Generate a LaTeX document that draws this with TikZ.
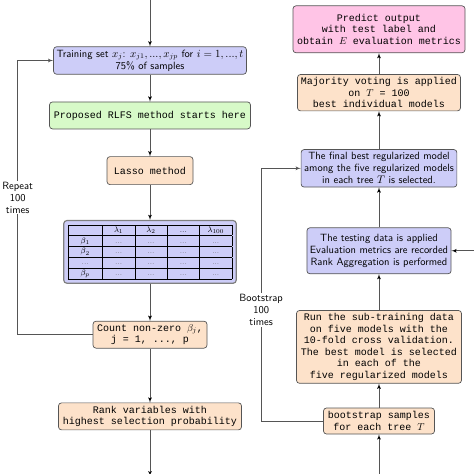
\documentclass[tikz,border=0pt]{standalone}
\usepackage{fontspec}
\setmonofont{Liberation Mono}
\usepackage{amsmath}
\usepackage{array}
\usepackage{tikz}
\usetikzlibrary{arrows,positioning,calc}

\definecolor{bluefill}{RGB}{205,205,248}
\definecolor{greenfill}{RGB}{215,250,200}
\definecolor{orangefill}{RGB}{253,226,202}
\definecolor{pinkfill}{RGB}{255,196,230}
\definecolor{edgegray}{RGB}{85,85,85}

\newcommand{\dd}{\textcolor{black!60}{...}}

\begin{document}
\begin{tikzpicture}[>=latex', font=\fontsize{10}{11.5}\selectfont,
  box/.style={draw=edgegray, rounded corners=3pt, align=center, inner sep=3pt, line width=0.7pt},
  bluebox/.style={box, fill=bluefill, font=\sffamily\fontsize{10.5}{12}\selectfont},
  greenbox/.style={box, fill=greenfill, font=\ttfamily\fontsize{10}{11.5}\selectfont},
  orangebox/.style={box, fill=orangefill, font=\ttfamily\fontsize{10}{11.5}\selectfont},
  pinkbox/.style={box, fill=pinkfill, font=\ttfamily\fontsize{10}{11.5}\selectfont},
  flow/.style={->, draw=edgegray, line width=0.8pt},
  looplabel/.style={fill=white, align=center, inner sep=1pt, font=\sffamily\fontsize{10.5}{12}\selectfont}]
 		\useasboundingbox (0,0) rectangle (474pt,-474pt);
 		% left column
 		\node[bluebox, minimum width=184pt, minimum height=27pt] (train) at (150pt,-60.5pt)
 		      {Training set $x_j$: $x_{j1},...,x_{jp}$ for $i = 1,...,t$\\ 75\% of samples};
 		\node[greenbox, minimum width=201pt, minimum height=27pt] (rlfs)  [below=27pt of train] {Proposed RLFS method starts here};
 		\node[orangebox, minimum width=86pt, minimum height=28pt] (lasso) [below=27pt of rlfs]  {Lasso method};
 		\node[bluebox, draw=gray, line width=1.2pt, inner sep=4pt] (coef) [below=35pt of lasso]
 		      {\footnotesize\rmfamily\renewcommand{\arraystretch}{1.1}\setlength{\tabcolsep}{2pt}%
 		       \begin{tabular}{|wc{30pt}|wc{28pt}|wc{28pt}|wc{28pt}|wc{28pt}|}\hline
 		        & $\lambda_1$ & $\lambda_2$ & ... & $\lambda_{100}$ \\\hline
 		        $\beta_1$ & \dd & \dd & \dd & \dd \\\hline
 		        $\beta_2$ & \dd & \dd & \dd & \dd \\\hline
 		        \dd & \dd & \dd & \dd & \dd \\\hline
 		        $\beta_p$ & \dd & \dd & \dd & \dd \\\hline
 		       \end{tabular}};
 		\node[orangebox, minimum width=114pt, minimum height=27pt] (count) [below=37pt of coef]  {Count non-zero $\beta_j$,\\ j = 1, ..., p};
 		\node[orangebox, minimum width=183pt, minimum height=27pt] (rank)  [below=54pt of count] {Rank variables with\\ highest selection probability};
 		% right column
 		\node[orangebox, minimum width=111pt, minimum height=26pt] (boot)  at (379pt,-421pt) {bootstrap samples\\ for each tree $T$};
 		\node[orangebox, minimum width=165pt, minimum height=72pt] (run)   [above=24pt of boot]
 		      {Run the sub-training data\\ on five models with the\\ 10-fold cross validation.\\ The best model is selected\\ in each of the\\ five regularized models};
 		\node[bluebox, minimum width=140pt, minimum height=46pt] (test)   [above=36pt of run]
 		      {The testing data is applied\\ Evaluation metrics are recorded\\ Rank Aggregation is performed};
 		\node[bluebox, minimum width=150pt, minimum height=36pt] (final)  [above=40pt of test]
 		      {The final best regularized model\\ among the five regularized models\\ in each tree $T$ is selected.};
 		\node[orangebox, minimum width=163pt, minimum height=35pt] (vote) [above=38pt of final]
 		      {Majority voting is applied\\ on $T$ = 100\\ best individual models};
 		\node[pinkbox, minimum width=172pt, minimum height=47pt] (pred)   [above=21pt of vote]
 		      {Predict output\\ with test label and\\ obtain $E$ evaluation metrics};
 		% loose ends
 		\path (train.north) ++(0,47pt)   coordinate (in);
 		\path (rank.south)  ++(0,-46pt)  coordinate (out);
 		\path (boot.south)  ++(0,-40pt)  coordinate (bin);
 		\path (test.east)   ++(25pt,0)   coordinate (tin);

 		\path[flow] (in)    edge (train)
 		            (train) edge (rlfs)
 		            (rlfs)  edge (lasso)
 		            (lasso) edge (coef)
 		            (coef)  edge (count)
 		            (count) edge (rank)
 		            (rank)  edge (out)
 		            (bin)   edge (boot)
 		            (boot)  edge (run)
 		            (run)   edge (test)
 		            (test)  edge (final)
 		            (final) edge (vote)
 		            (vote)  edge (pred)
 		            (tin)   edge (test);

 		\draw[flow] (count.west) -- ++(-75pt,0) |- node[looplabel, pos=0.25] {Repeat\\ 100\\ times} (train.west);
 		\draw[flow] (boot.west) -- ++(-62pt,0) |- node[looplabel, pos=0.22] {Bootstrap\\ 100\\ times} (final.west);
\end{tikzpicture}
\end{document}
